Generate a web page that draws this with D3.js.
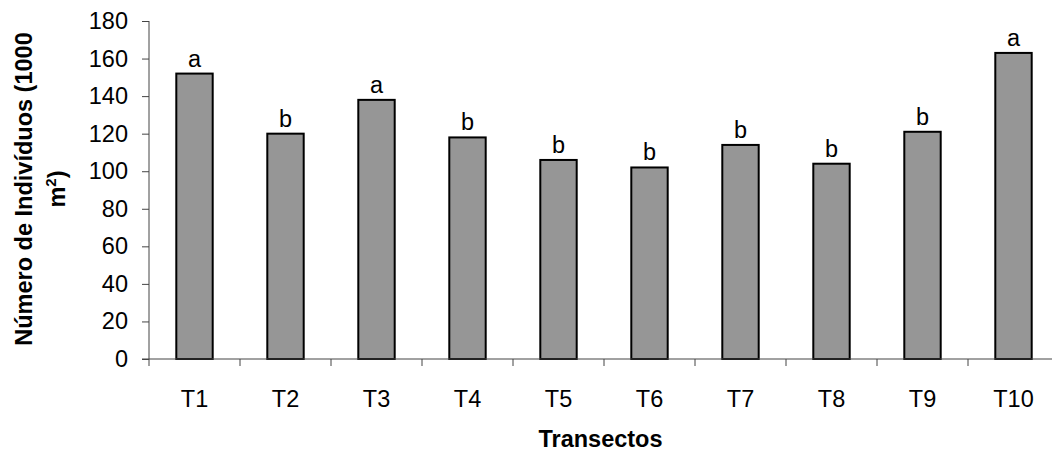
<!DOCTYPE html>
<html>
<head>
<meta charset="utf-8">
<script src="https://cdn.jsdelivr.net/npm/d3@7"></script>
<style>
  html, body { margin: 0; padding: 0; background: #fff; }
  svg { display: block; font-family: "Liberation Sans", Arial, sans-serif; }
</style>
</head>
<body>
<svg id="chart" width="1052" height="452"></svg>
<script>
// Individuals per transect (1000 m²) with significance groups
const categories = ["T1", "T2", "T3", "T4", "T5", "T6", "T7", "T8", "T9", "T10"];
const values = [152, 120, 138, 118, 106, 102, 114, 104, 121, 163];
const groups = ["a", "b", "a", "b", "b", "b", "b", "b", "b", "a"];
const yTicks = [0, 20, 40, 60, 80, 100, 120, 140, 160, 180];

const svg = d3.select("#chart");
const plot = { left: 149, right: 1059, top: 21, bottom: 359 };
const fontSize = 23.5;
const fontFamily = "Liberation Sans, Arial, sans-serif";

const y = d3.scaleLinear().domain([0, 180]).range([plot.bottom, plot.top]);

// category slots (for the boundary ticks) and bars inside them
const slot = d3.scaleBand().domain(categories).range([plot.left, plot.right]).padding(0);
const bar = d3.scaleBand().domain(categories).range([plot.left, plot.right])
  .paddingInner(0.6).paddingOuter(0.3);

const axisColor = "#444";

// bars
svg.append("g").selectAll("rect")
  .data(categories)
  .join("rect")
  .attr("x", (c) => bar(c))
  .attr("y", (c, i) => y(values[i]))
  .attr("width", bar.bandwidth())
  .attr("height", (c, i) => y(0) - y(values[i]))
  .attr("fill", "#969696")
  .attr("stroke", "#000")
  .attr("stroke-width", 2);

// group letters above bars
svg.append("g").selectAll("text")
  .data(categories)
  .join("text")
  .attr("x", (c) => bar(c) + bar.bandwidth() / 2)
  .attr("y", (c, i) => y(values[i]) - 7)
  .attr("text-anchor", "middle")
  .attr("font-size", fontSize)
  .attr("fill", "#000")
  .text((c, i) => groups[i]);

// y axis
const yAxis = svg.append("g")
  .attr("transform", `translate(${plot.left},0)`)
  .call(d3.axisLeft(y).tickValues(yTicks).tickSize(7).tickPadding(14).tickFormat(d3.format("d")));
yAxis.select(".domain").attr("stroke", axisColor).attr("d", `M0,${plot.bottom}V${plot.top}`);
yAxis.selectAll(".tick line").attr("stroke", axisColor);
yAxis.selectAll(".tick text")
  .attr("font-size", fontSize)
  .attr("font-family", fontFamily)
  .attr("fill", "#000");

// x axis: labels centred on bars, ticks on slot boundaries
const xAxis = svg.append("g")
  .attr("transform", `translate(0,${plot.bottom})`)
  .call(d3.axisBottom(bar).tickSize(0).tickPadding(31));
xAxis.select(".domain").attr("stroke", axisColor).attr("d", `M${plot.left - 7},0H${plot.right}`);
xAxis.selectAll(".tick text")
  .attr("font-size", fontSize)
  .attr("font-family", fontFamily)
  .attr("fill", "#000");

svg.append("g").selectAll("line")
  .data(categories.concat(["__end"]))
  .join("line")
  .attr("x1", (c, i) => i < categories.length ? slot(c) : plot.right)
  .attr("x2", (c, i) => i < categories.length ? slot(c) : plot.right)
  .attr("y1", plot.bottom)
  .attr("y2", plot.bottom + 7)
  .attr("stroke", axisColor);

// axis titles
svg.append("text")
  .attr("x", (plot.left + 1052) / 2)
  .attr("y", 447)
  .attr("text-anchor", "middle")
  .attr("font-size", fontSize)
  .attr("font-weight", "bold")
  .text("Transectos");

const yTitle = svg.append("text")
  .attr("transform", "translate(0,189) rotate(-90)")
  .attr("text-anchor", "middle")
  .attr("font-size", fontSize)
  .attr("font-weight", "bold");
yTitle.append("tspan").attr("x", 0).attr("y", 32).text("Número de Indivíduos (1000");
const line2 = yTitle.append("tspan").attr("x", 0).attr("y", 65);
line2.append("tspan").text("m");
line2.append("tspan").attr("dy", -9).attr("font-size", 15).text("2");
line2.append("tspan").attr("dy", 9).text(")");
</script>
</body>
</html>
